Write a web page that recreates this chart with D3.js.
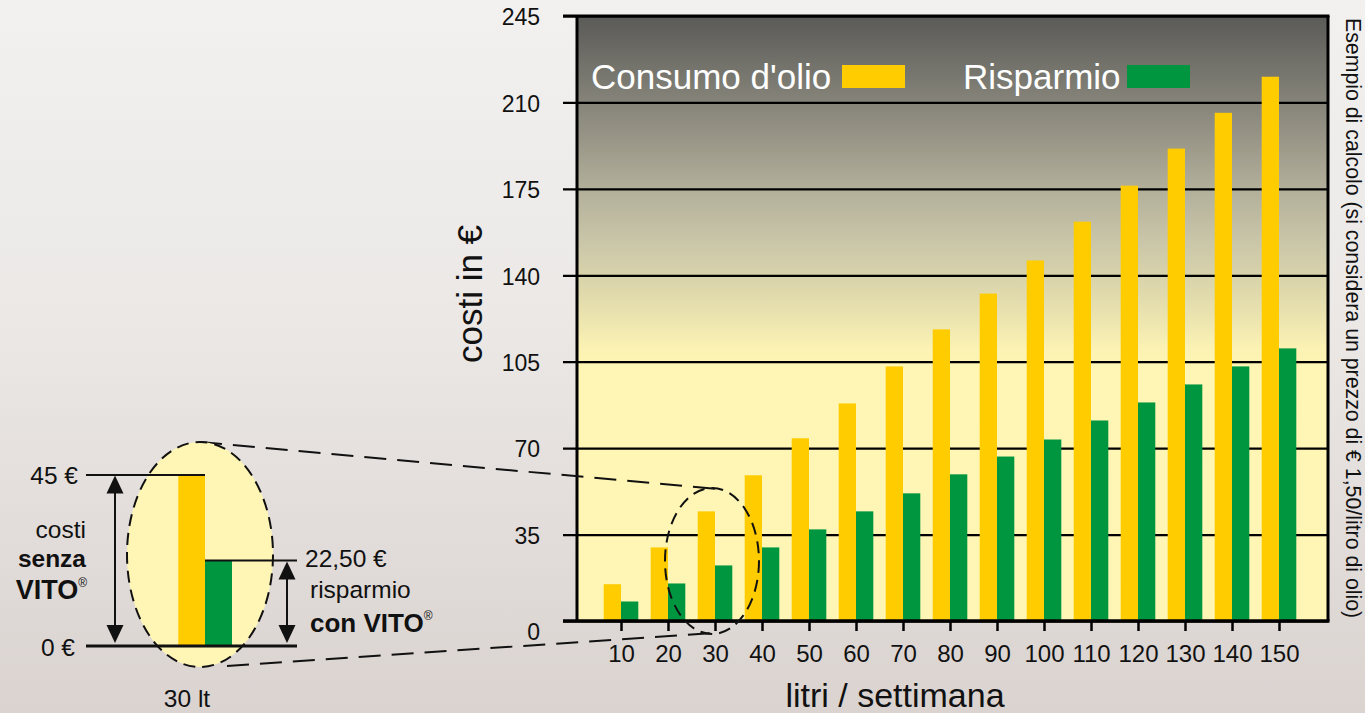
<!DOCTYPE html>
<html>
<head>
<meta charset="utf-8">
<script src="https://cdn.jsdelivr.net/npm/d3@7"></script>
<style>
  html, body { margin: 0; padding: 0; }
  body { width: 1365px; height: 713px; overflow: hidden; }
  svg { display: block; font-family: "Liberation Sans", Arial, sans-serif; }
</style>
</head>
<body>
<svg id="chart" width="1365" height="713"></svg>
<script>
// ---- data ----
const categories = [10, 20, 30, 40, 50, 60, 70, 80, 90, 100, 110, 120, 130, 140, 150];
const consumo    = [14.9, 29.8, 44.4, 59.0, 74.0, 88.1, 103.1, 118.1, 132.6, 146.0, 161.7, 176.3, 191.3, 205.8, 220.4];
const risparmio  = [7.9, 15.2, 22.5, 29.8, 37.1, 44.4, 51.7, 59.4, 66.6, 73.5, 81.2, 88.5, 95.8, 103.1, 110.4];
const yTicks     = [0, 35, 70, 105, 140, 175, 210, 245];
const seriesNames = ["Consumo d'olio", "Risparmio"];
const insetValues = [45, 22.5];          // 30 lt example: cost without / saving with VITO
const insetLabels = ["45 €", "22,50 €", "0 €"];

const colYellow = "#ffcc00", colGreen = "#009640";

const svg = d3.select("#chart");
const defs = svg.append("defs");

// page background
const bg = defs.append("linearGradient").attr("id", "pageBg").attr("x1", 0).attr("y1", 0).attr("x2", 0).attr("y2", 1);
bg.append("stop").attr("offset", "0%").attr("stop-color", "#f2f1f0");
bg.append("stop").attr("offset", "45%").attr("stop-color", "#ebe8e6");
bg.append("stop").attr("offset", "100%").attr("stop-color", "#dad3d0");
svg.append("rect").attr("width", 1365).attr("height", 713).attr("fill", "url(#pageBg)");

// plot background
const pg = defs.append("linearGradient").attr("id", "plotBg").attr("x1", 0).attr("y1", 0).attr("x2", 0).attr("y2", 1);
[["0%", "#5a5a57"], ["14%", "#858379"], ["29%", "#b3b09b"], ["37%", "#c9c5a8"], ["47%", "#e3dcad"], ["55%", "#fbf2b3"], ["58%", "#fff5b4"], ["100%", "#fff6b6"]]
  .forEach(s => pg.append("stop").attr("offset", s[0]).attr("stop-color", s[1]));

const L = 577, R = 1328, T = 16, B = 621;

const y = d3.scaleLinear().domain([0, 245]).range([B, T]);
const x = d3.scalePoint().domain(categories).range([574, 1326]).padding(1);
const bw = 17.3;

svg.append("rect").attr("x", L).attr("y", T).attr("width", R - L).attr("height", B - T).attr("fill", "url(#plotBg)");

// gridlines + y labels
const yAxis = svg.append("g").attr("transform", `translate(563,0)`)
  .call(d3.axisLeft(y).tickValues(yTicks).tickSize(-(R - 563)).tickPadding(23));
yAxis.select(".domain").remove();
yAxis.selectAll(".tick line").attr("stroke", "#000").attr("stroke-width", 2.2);
yAxis.selectAll(".tick text").attr("font-size", 23).attr("fill", "#111")
  .attr("font-family", "Liberation Sans, Arial, sans-serif")
  .attr("dy", d => d === 0 ? "0.8em" : "0.38em");

// bars
const gBars = svg.append("g");
gBars.selectAll("rect.c").data(categories).join("rect").attr("class", "c")
  .attr("x", d => x(d) - bw).attr("width", bw)
  .attr("y", (d, i) => y(consumo[i])).attr("height", (d, i) => B - y(consumo[i]))
  .attr("fill", colYellow);
gBars.selectAll("rect.r").data(categories).join("rect").attr("class", "r")
  .attr("x", d => x(d)).attr("width", bw)
  .attr("y", (d, i) => y(risparmio[i])).attr("height", (d, i) => B - y(risparmio[i]))
  .attr("fill", colGreen);

// frame
svg.append("line").attr("x1", 563).attr("x2", R + 1.5).attr("y1", T).attr("y2", T).attr("stroke", "#000").attr("stroke-width", 3);
svg.append("line").attr("x1", R).attr("x2", R).attr("y1", T).attr("y2", B).attr("stroke", "#000").attr("stroke-width", 3);
svg.append("line").attr("x1", L).attr("x2", L).attr("y1", T).attr("y2", B).attr("stroke", "#000").attr("stroke-width", 3);

// x axis
const xAxis = svg.append("g").attr("transform", `translate(0,${B})`)
  .call(d3.axisBottom(x).tickSize(10).tickPadding(14));
xAxis.select(".domain").remove();
xAxis.selectAll(".tick line").attr("stroke", "#000").attr("stroke-width", 2.5);
xAxis.selectAll(".tick text").attr("font-size", 24).attr("fill", "#111")
  .attr("font-family", "Liberation Sans, Arial, sans-serif");
svg.append("line").attr("x1", 563).attr("x2", R + 1.5).attr("y1", B).attr("y2", B).attr("stroke", "#000").attr("stroke-width", 3.5);

// axis titles
svg.append("text").attr("x", 895).attr("y", 707).attr("text-anchor", "middle")
  .attr("font-size", 34).attr("fill", "#111").text("litri / settimana");
svg.append("text").attr("transform", "translate(482,294) rotate(-90)").attr("text-anchor", "middle")
  .attr("font-size", 35).attr("fill", "#111").text("costi in €");
svg.append("text").attr("transform", "translate(1346,18) rotate(90)").attr("text-anchor", "start")
  .attr("font-size", 21.3).attr("fill", "#111")
  .text("Esempio di calcolo (si considera un prezzo di € 1,50/litro di olio)");

// legend
const legend = [
  { name: seriesNames[0], color: colYellow, tx: 591, rx: 842 },
  { name: seriesNames[1], color: colGreen, tx: 963, rx: 1127 }
];
legend.forEach(l => {
  svg.append("text").attr("x", l.tx).attr("y", 89).attr("font-size", 35).attr("fill", "#fff").text(l.name);
  svg.append("rect").attr("x", l.rx).attr("y", 65).attr("width", 63).attr("height", 23).attr("fill", l.color);
});

// ---- inset (30 lt) ----
const yi = d3.scaleLinear().domain([0, 45]).range([646, 475]);
const dashLong = "22,11";

// connecting dashed lines
svg.append("line").attr("x1", 200).attr("y1", 442).attr("x2", 717).attr("y2", 489)
  .attr("stroke", "#111").attr("stroke-width", 2).attr("stroke-dasharray", dashLong);
svg.append("line").attr("x1", 227).attr("y1", 666).attr("x2", 713).attr("y2", 633)
  .attr("stroke", "#111").attr("stroke-width", 2).attr("stroke-dasharray", dashLong);

// small dashed ellipse around the 30 lt bars
svg.append("ellipse").attr("cx", x(30) - 3).attr("cy", 561).attr("rx", 47).attr("ry", 73)
  .attr("fill", "none").attr("stroke", "#111").attr("stroke-width", 2).attr("stroke-dasharray", "12,7");

// big ellipse
svg.append("ellipse").attr("cx", 200).attr("cy", 554.5).attr("rx", 73).attr("ry", 112.5)
  .attr("fill", "#fff5b4").attr("stroke", "#111").attr("stroke-width", 2).attr("stroke-dasharray", "12,7");

svg.append("rect").attr("x", 178.3).attr("width", 26.7).attr("y", yi(insetValues[0])).attr("height", yi(0) - yi(insetValues[0])).attr("fill", colYellow);
svg.append("rect").attr("x", 205).attr("width", 27).attr("y", yi(insetValues[1])).attr("height", yi(0) - yi(insetValues[1])).attr("fill", colGreen);

// reference lines
svg.append("line").attr("x1", 86).attr("x2", 205).attr("y1", yi(insetValues[0])).attr("y2", yi(insetValues[0])).attr("stroke", "#111").attr("stroke-width", 2);
svg.append("line").attr("x1", 205).attr("x2", 297).attr("y1", yi(insetValues[1])).attr("y2", yi(insetValues[1])).attr("stroke", "#111").attr("stroke-width", 2);
svg.append("line").attr("x1", 86).attr("x2", 297).attr("y1", yi(0)).attr("y2", yi(0)).attr("stroke", "#111").attr("stroke-width", 3);

// double arrows
function dblArrow(ax, top, bottom) {
  const hw = 8.5, hh = 18;
  svg.append("line").attr("x1", ax).attr("x2", ax).attr("y1", top + hh - 2).attr("y2", bottom - hh + 2).attr("stroke", "#111").attr("stroke-width", 2);
  svg.append("path").attr("d", `M${ax},${top} L${ax - hw},${top + hh} L${ax + hw},${top + hh} Z`).attr("fill", "#111");
  svg.append("path").attr("d", `M${ax},${bottom} L${ax - hw},${bottom - hh} L${ax + hw},${bottom - hh} Z`).attr("fill", "#111");
}
dblArrow(115, yi(insetValues[0]) + 0.5, 643);
dblArrow(287, yi(insetValues[1]) + 1, 643);

// inset texts
const tcol = "#111", fs = 24.5;
svg.append("text").attr("x", 78).attr("y", 484).attr("text-anchor", "end").attr("font-size", fs).attr("fill", tcol).text(insetLabels[0]);
svg.append("text").attr("x", 75).attr("y", 656).attr("text-anchor", "end").attr("font-size", fs).attr("fill", tcol).text(insetLabels[2]);
svg.append("text").attr("x", 305).attr("y", 567).attr("font-size", fs).attr("fill", tcol).text(insetLabels[1]);

svg.append("text").attr("x", 86).attr("y", 538).attr("text-anchor", "end").attr("font-size", fs).attr("fill", tcol).text("costi");
svg.append("text").attr("x", 86).attr("y", 567).attr("text-anchor", "end").attr("font-size", fs).attr("font-weight", "bold").attr("fill", tcol).text("senza");
const v1 = svg.append("text").attr("x", 87).attr("y", 599).attr("text-anchor", "end").attr("font-size", 27).attr("font-weight", "bold").attr("fill", tcol);
v1.append("tspan").text("VITO");
v1.append("tspan").attr("font-size", 12).attr("font-weight", "normal").attr("dy", -12).text("®");

svg.append("text").attr("x", 310).attr("y", 598).attr("font-size", fs).attr("fill", tcol).text("risparmio");
const v2 = svg.append("text").attr("x", 310).attr("y", 632).attr("font-size", 26).attr("font-weight", "bold").attr("fill", tcol);
v2.append("tspan").text("con VITO");
v2.append("tspan").attr("font-size", 12).attr("font-weight", "normal").attr("dy", -12).text("®");

svg.append("text").attr("x", 187).attr("y", 707).attr("text-anchor", "middle").attr("font-size", fs).attr("fill", tcol).text("30 lt");
</script>
</body>
</html>
